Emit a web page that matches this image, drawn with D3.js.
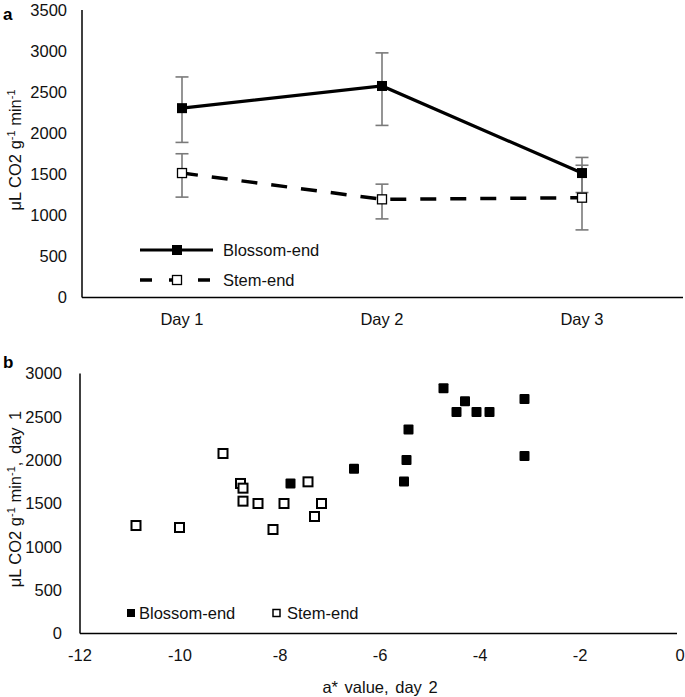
<!DOCTYPE html>
<html><head><meta charset="utf-8">
<script src="https://cdn.jsdelivr.net/npm/d3@7"></script>
<style>body{margin:0;background:#fff}svg{display:block;font-family:"Liberation Sans",Arial,sans-serif}</style>
</head><body>
<svg id="c" width="685" height="697"></svg>
<script>
// ---- Panel a data ----
const days = ["Day 1", "Day 2", "Day 3"];
const blossomMean = [2305, 2575, 1515];
const blossomLow  = [1888, 2095, 1278];
const blossomHigh = [2685, 2978, 1705];
const stemMean = [1515, 1195, 1215];
const stemLow  = [1222, 957, 823];
const stemHigh = [1750, 1380, 1610];
const yTicksA = [0, 500, 1000, 1500, 2000, 2500, 3000, 3500];

// ---- Panel b data ----
const blossomX = [-7.79, -6.52, -5.52, -5.47, -5.43, -4.73, -4.47, -4.30, -4.07, -3.81, -3.11, -3.11];
const blossomY = [1731, 1900, 1754, 2003, 2354, 2830, 2557, 2680, 2557, 2557, 2707, 2049];
const stemX = [-10.88, -10.01, -9.14, -8.79, -8.74, -8.74, -8.44, -7.92, -8.14, -7.44, -7.31, -7.17];
const stemY = [1246, 1223, 2077, 1731, 1677, 1527, 1500, 1500, 1200, 1750, 1350, 1500];
const xTicksB = [-12, -10, -8, -6, -4, -2, 0];
const yTicksB = [0, 500, 1000, 1500, 2000, 2500, 3000];

const svg = d3.select("#c");
const FS = 16.5;
const TC = "#111";

// ================= Panel a =================
const xA = d3.scalePoint().domain(days).range([82, 682]).padding(0.5);
const yA = d3.scaleLinear().domain([0, 3500]).range([297.5, 10]);
const gA = svg.append("g");

gA.append("line").attr("x1", 82).attr("x2", 82).attr("y1", yA(3500)).attr("y2", yA(0)).attr("stroke", "#000").attr("stroke-width", 1.5);
gA.append("line").attr("x1", 82).attr("x2", 683).attr("y1", yA(0)).attr("y2", yA(0)).attr("stroke", "#000").attr("stroke-width", 1.5);

gA.selectAll(".yt").data(yTicksA).join("text")
  .attr("x", 67).attr("y", d => yA(d)).attr("dy", "0.35em")
  .attr("text-anchor", "end").attr("font-size", FS).attr("fill", TC)
  .text(d => d);
gA.selectAll(".xt").data(days).join("text")
  .attr("x", d => xA(d)).attr("y", 325).attr("text-anchor", "middle").attr("font-size", FS).attr("fill", TC)
  .text(d => d);

gA.append("text").attr("x", 3).attr("y", 20).attr("font-size", 17).attr("font-weight", "bold").text("a");

const ta = gA.append("text").attr("transform", "translate(21,150) rotate(-90)").attr("text-anchor", "middle").attr("font-size", FS).attr("fill", TC);
ta.append("tspan").text("μL CO2 g");
ta.append("tspan").attr("font-size", 11).attr("dy", -6).text("-1");
ta.append("tspan").attr("dy", 6).text(" min");
ta.append("tspan").attr("font-size", 11).attr("dy", -6).text("-1");

function errorBars(low, high) {
  days.forEach((d, i) => {
    const x = xA(d);
    gA.append("line").attr("x1", x).attr("x2", x).attr("y1", yA(low[i])).attr("y2", yA(high[i])).attr("stroke", "#7a7a7a").attr("stroke-width", 1.6);
    [low[i], high[i]].forEach(v => gA.append("line").attr("x1", x - 6.5).attr("x2", x + 6.5).attr("y1", yA(v)).attr("y2", yA(v)).attr("stroke", "#7a7a7a").attr("stroke-width", 1.6));
  });
}
errorBars(blossomLow, blossomHigh);
errorBars(stemLow, stemHigh);

const line = d3.line().x((d, i) => xA(days[i])).y(d => yA(d));
gA.append("path").datum(blossomMean).attr("d", line).attr("fill", "none").attr("stroke", "#000").attr("stroke-width", 3.2);
gA.append("path").datum(stemMean).attr("d", line).attr("fill", "none").attr("stroke", "#000").attr("stroke-width", 3.5).attr("stroke-dasharray", "16,14");

gA.selectAll(".bm").data(blossomMean).join("rect")
  .attr("x", (d, i) => xA(days[i]) - 5).attr("y", d => yA(d) - 5).attr("width", 10).attr("height", 10).attr("fill", "#000");
gA.selectAll(".sm").data(stemMean).join("rect")
  .attr("x", (d, i) => xA(days[i]) - 4.5).attr("y", d => yA(d) - 4.5).attr("width", 9).attr("height", 9).attr("fill", "#fff").attr("stroke", "#000").attr("stroke-width", 1.3);

// legend a
const lg = gA.append("g");
lg.append("line").attr("x1", 140).attr("x2", 213).attr("y1", 250).attr("y2", 250).attr("stroke", "#000").attr("stroke-width", 3.2);
lg.append("rect").attr("x", 172).attr("y", 245).attr("width", 10).attr("height", 10).attr("fill", "#000");
lg.append("text").attr("x", 223).attr("y", 250).attr("dy", "0.35em").attr("font-size", FS).attr("fill", TC).text("Blossom-end");
lg.append("line").attr("x1", 140).attr("x2", 213).attr("y1", 280).attr("y2", 280).attr("stroke", "#000").attr("stroke-width", 3.5).attr("stroke-dasharray", "12,17");
lg.append("rect").attr("x", 172.5).attr("y", 275.5).attr("width", 9).attr("height", 9).attr("fill", "#fff").attr("stroke", "#000").attr("stroke-width", 1.3);
lg.append("text").attr("x", 223).attr("y", 280).attr("dy", "0.35em").attr("font-size", FS).attr("fill", TC).text("Stem-end");

// ================= Panel b =================
const xB = d3.scaleLinear().domain([-12, 0]).range([80, 680]);
const yB = d3.scaleLinear().domain([0, 3000]).range([633.5, 373.5]);
const gB = svg.append("g");

gB.append("line").attr("x1", 80).attr("x2", 80).attr("y1", yB(3000)).attr("y2", yB(0)).attr("stroke", "#000").attr("stroke-width", 1.5);
gB.append("line").attr("x1", 80).attr("x2", 677).attr("y1", yB(0)).attr("y2", yB(0)).attr("stroke", "#000").attr("stroke-width", 1.5);

gB.selectAll(".yt").data(yTicksB).join("text")
  .attr("x", 62).attr("y", d => yB(d)).attr("dy", "0.35em")
  .attr("text-anchor", "end").attr("font-size", FS).attr("fill", TC)
  .text(d => d);
gB.selectAll(".xt").data(xTicksB).join("text")
  .attr("x", d => xB(d)).attr("y", 661).attr("text-anchor", "middle").attr("font-size", FS).attr("fill", TC)
  .text(d => d);

gB.append("text").attr("x", 380).attr("y", 693).attr("text-anchor", "middle").attr("font-size", FS).attr("fill", TC).attr("word-spacing", "2").text("a* value, day 2");
gB.append("text").attr("x", 3).attr("y", 368).attr("font-size", 17).attr("font-weight", "bold").text("b");

const tb = gB.append("text").attr("transform", "translate(21,499) rotate(-90)").attr("text-anchor", "middle").attr("font-size", FS).attr("fill", TC);
tb.append("tspan").text("μL CO2 g");
tb.append("tspan").attr("font-size", 11).attr("dy", -6).text("-1");
tb.append("tspan").attr("dy", 6).text(" min");
tb.append("tspan").attr("font-size", 11).attr("dy", -6).text("-1");
tb.append("tspan").attr("dy", 6).attr("word-spacing", "3").text(", day 1");

gB.selectAll(".sp").data(stemX).join("rect")
  .attr("x", d => xB(d) - 4.5).attr("y", (d, i) => yB(stemY[i]) - 4.5).attr("width", 9).attr("height", 9)
  .attr("fill", "#fff").attr("stroke", "#000").attr("stroke-width", 2);
gB.selectAll(".bp").data(blossomX).join("rect")
  .attr("x", d => xB(d) - 5).attr("y", (d, i) => yB(blossomY[i]) - 5).attr("width", 10).attr("height", 10)
  .attr("rx", 1).attr("fill", "#000");

// legend b
gB.append("rect").attr("x", 127).attr("y", 609).attr("width", 8).attr("height", 8).attr("fill", "#000");
gB.append("text").attr("x", 139).attr("y", 613).attr("dy", "0.35em").attr("font-size", FS).attr("fill", TC).text("Blossom-end");
gB.append("rect").attr("x", 273).attr("y", 609.5).attr("width", 7).attr("height", 7).attr("fill", "#fff").attr("stroke", "#000").attr("stroke-width", 1.5);
gB.append("text").attr("x", 287).attr("y", 613).attr("dy", "0.35em").attr("font-size", FS).attr("fill", TC).text("Stem-end");
</script>
</body></html>
